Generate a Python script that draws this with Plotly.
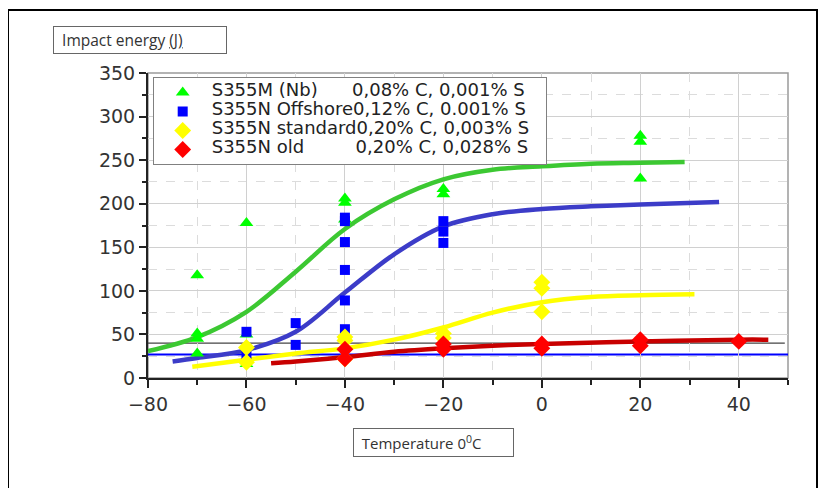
import plotly.graph_objects as go

# ---------------- data ----------------
# measured Charpy points
temp_m = [-70, -70, -70, -70, -60, -60, -60, -40, -40, -40, -20, -20, 20, 20, 20]
energy_m = [118, 51, 45, 28, 178, 50, 16, 206, 201, 182, 217, 211, 278, 271, 229]

temp_off = [-60, -60, -50, -50, -40, -40, -40, -40, -40, -40, -20, -20, -20]
energy_off = [53, 27, 63, 38, 184, 180, 156, 124, 89, 56, 180, 168, 155]

temp_std = [-60, -60, -40, -40, -40, -20, -20, 0, 0, 0]
energy_std = [35, 18, 47, 43, 22, 51, 46, 110, 103, 76]

temp_old = [-40, -40, -20, -20, 0, 0, 20, 20, 40]
energy_old = [33, 22, 39, 33, 39, 34, 44, 37, 42]

# transition curves
fit_m_t = [-80, -70, -60, -50, -40, -30, -20, -10, 0, 10, 20, 29]
fit_m_e = [31, 47, 76, 122, 171, 205, 228, 239, 243, 246, 247, 248]

fit_off_t = [-75, -70, -60, -50, -40, -30, -20, -10, 0, 10, 20, 36]
fit_off_e = [19, 23, 32, 53, 98, 142, 174, 188, 194, 197, 199, 202]

fit_std_t = [-71, -60, -50, -40, -30, -20, -10, 0, 10, 20, 31]
fit_std_e = [13, 21, 28, 34, 44, 58, 75, 87, 93, 95, 96]

fit_old_t = [-55, -50, -40, -30, -20, -10, 0, 20, 40, 46]
fit_old_e = [17, 19, 24, 30, 34, 37, 39, 42, 44, 44]

# reference energy levels
ref_black = 40
ref_blue = 27

series_names = ["S355M (Nb)", "S355N Offshore", "S355N standard", "S355N old"]
series_comp = ["0,08% C, 0,001% S", "0,12% C, 0.001% S", "0,20% C, 0,003% S", "0,20% C, 0,028% S"]
name_pad = [6, 0, 0, 9]

x_ticks = [-80, -60, -40, -20, 0, 20, 40]
y_ticks = [0, 50, 100, 150, 200, 250, 300, 350]

# ---------------- figure ----------------
NB = "\u00a0"
fig = go.Figure()

fits = [
    (fit_m_t, fit_m_e, "rgb(60,200,50)"),
    (fit_off_t, fit_off_e, "rgb(60,60,200)"),
    (fit_std_t, fit_std_e, "rgb(255,255,0)"),
    (fit_old_t, fit_old_e, "rgb(200,0,0)"),
]
for t, e, c in fits:
    fig.add_trace(go.Scatter(x=t, y=e, mode="lines", showlegend=False, hoverinfo="skip",
                             line=dict(color=c, width=4.5, shape="spline", smoothing=1.0)))

points = [
    (temp_m, energy_m, "#00ff00", "triangle-up", 12),
    (temp_off, energy_off, "#0000ff", "square", 10),
    (temp_std, energy_std, "#ffff00", "diamond", 13),
    (temp_old, energy_old, "#ff0000", "diamond", 13),
]
for i, (t, e, c, s, sz) in enumerate(points):
    label = series_names[i] + NB * name_pad[i] + series_comp[i] + NB * 2
    fig.add_trace(go.Scatter(
        x=t, y=e, mode="markers",
        name='<span style="font-size:18px">' + label + "</span>",
        marker=dict(color=c, symbol=s, size=sz, line=dict(width=0)),
    ))

# page pixel -> paper coordinates (plot area spans page x 148..788, y 73..378)
def px_x(px):
    return (px - 148) / 640.0

def px_y(py):
    return (378 - py) / 305.0

shapes = [
    dict(type="rect", xref="paper", yref="paper", x0=0, x1=1, y0=0, y1=1,
         line=dict(color="#9a9a9a", width=1.5), layer="between"),
    dict(type="line", xref="paper", yref="y", x0=0, x1=0.995, y0=ref_black, y1=ref_black,
         line=dict(color="#444444", width=1.3), layer="between"),
    dict(type="line", xref="paper", yref="y", x0=0, x1=1, y0=ref_blue, y1=ref_blue,
         line=dict(color="#0000ff", width=2), layer="between"),
    dict(type="rect", xref="paper", yref="paper", x0=px_x(8), x1=px_x(817), y0=px_y(520), y1=px_y(10),
         line=dict(color="black", width=2), layer="above"),
]

annotations = [
    dict(xref="paper", yref="paper", x=px_x(53), y=px_y(26), xanchor="left", yanchor="top",
         text=NB * 2 + 'Impact energy <span style="text-decoration:underline;text-decoration-color:#33aa33">(J)</span>',
         showarrow=False, align="left",
         width=172, height=26, borderwidth=1, bordercolor="#666666", borderpad=0,
         font=dict(family="Open Sans", size=15.5, color="#333333")),
    dict(xref="paper", yref="paper", x=px_x(353), y=px_y(428), xanchor="left", yanchor="top",
         text=NB * 2 + "Temperature 0<sup>0</sup>C", showarrow=False, align="left",
         width=159, height=27, borderwidth=1, bordercolor="#666666", borderpad=0,
         font=dict(family="Open Sans", size=15, color="#333333")),
]

fig.update_layout(
    width=820, height=480,
    margin=dict(l=140, r=40, t=65, b=110),
    paper_bgcolor="white", plot_bgcolor="white",
    font=dict(family="DejaVu Sans", color="#333333"),
    shapes=shapes, annotations=annotations,
    legend=dict(x=px_x(152.7), y=px_y(77), xanchor="left", yanchor="top",
                bordercolor="#808080", borderwidth=1, bgcolor="white",
                font=dict(family="DejaVu Sans", size=10.2, color="#222222"),
                itemwidth=48, tracegroupgap=0),
    xaxis=dict(range=[-80, 50], tickmode="array", tickvals=x_ticks,
               ticks="outside", ticklen=8, tickwidth=1.5, tickcolor="#222222",
               showline=True, linecolor="#222222", linewidth=2, zeroline=False,
               showgrid=True, gridcolor="#d0d0d0", gridwidth=1,
               tickfont=dict(family="DejaVu Sans", size=19, color="#333333"),
               minor=dict(dtick=10, tick0=0, ticks="outside", ticklen=5, tickcolor="#222222",
                          showgrid=True, gridcolor="#dcdcdc", griddash="dash", gridwidth=1)),
    yaxis=dict(range=[0, 350], tickmode="array", tickvals=y_ticks,
               ticks="outside", ticklen=7, tickwidth=1.5, tickcolor="#222222",
               showline=True, linecolor="#222222", linewidth=2, zeroline=False,
               showgrid=True, gridcolor="#d0d0d0", gridwidth=1,
               tickfont=dict(family="DejaVu Sans", size=19, color="#333333"),
               minor=dict(dtick=25, tick0=0, ticks="outside", ticklen=4, tickcolor="#222222",
                          showgrid=True, gridcolor="#dcdcdc", griddash="dash", gridwidth=1)),
)

fig.write_html("out.html")
